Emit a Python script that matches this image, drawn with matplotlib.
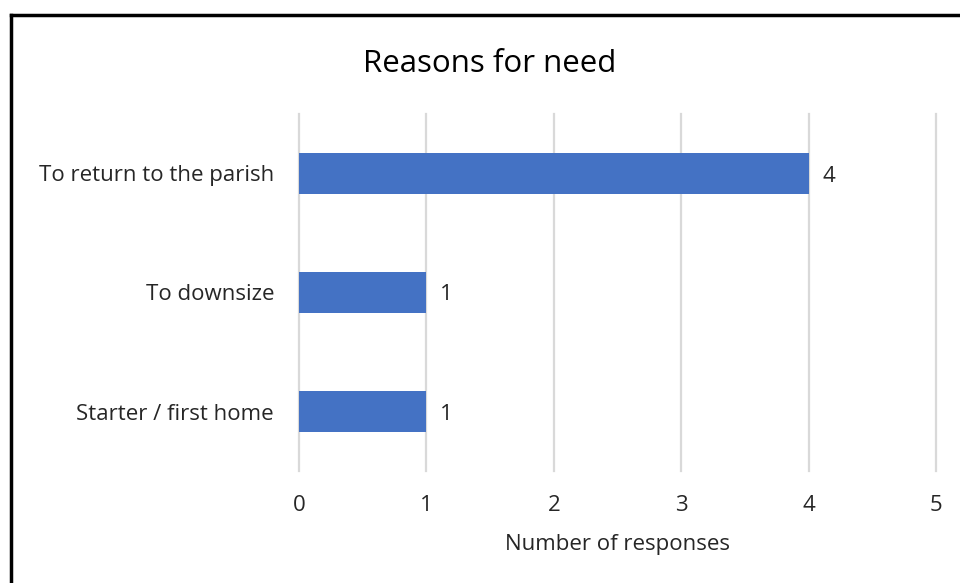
import matplotlib.pyplot as plt
from matplotlib.lines import Line2D

# data
reasons = ["Starter / first home", "To downsize", "To return to the parish"]
responses = [1, 1, 4]
xticks = [0, 1, 2, 3, 4, 5]

plt.rcParams['font.family'] = ['Open Sans', 'DejaVu Sans']
text_color = '#262626'
fs = 16

fig = plt.figure(figsize=(9.6, 5.83), dpi=100)
ax = fig.add_axes([299 / 960, 1 - 471 / 583, (936 - 299) / 960, (471 - 114) / 583])

bars = ax.barh(reasons, responses, height=0.35, color='#4472C4', zorder=3)
for b, v in zip(bars, responses):
    ax.text(v + 0.11, b.get_y() + b.get_height() / 2, str(v),
            va='center_baseline', ha='left', fontsize=fs, color=text_color)

ax.set_xlim(0, 5)
ax.set_ylim(-0.5, 2.5)
ax.set_xticks(xticks)
ax.grid(axis='x', color='#d9d9d9', linewidth=1.6, zorder=0)
for gl in ax.get_xgridlines():
    gl.set_clip_on(False)
ax.tick_params(length=0, labelsize=fs, colors=text_color)
ax.tick_params(axis='x', pad=17)
ax.tick_params(axis='y', pad=18)
for lbl in ax.get_yticklabels():
    lbl.set_verticalalignment('center_baseline')
for s in ax.spines.values():
    s.set_visible(False)

ax.set_xlabel("Number of responses", fontsize=fs, color=text_color, labelpad=13)
fig.text(490 / 960, 1 - 61 / 583, "Reasons for need", ha='center', va='center_baseline',
         fontsize=22.5, color='#000000')

# outer chart border (only left and top visible in the crop)
fig.add_artist(Line2D([11 / 960, 11 / 960], [0, 1 - 15 / 583], color='black', linewidth=2.5,
                      transform=fig.transFigure))
fig.add_artist(Line2D([11 / 960, 1], [1 - 15 / 583, 1 - 15 / 583], color='black', linewidth=2.5,
                      transform=fig.transFigure))

fig.savefig("out.png", dpi=100)
